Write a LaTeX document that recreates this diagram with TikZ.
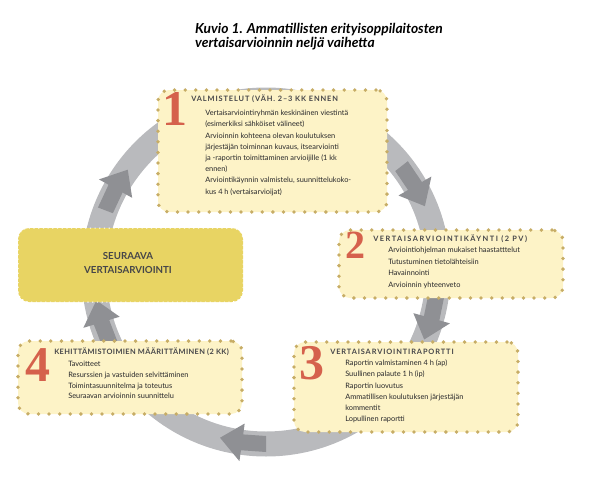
\documentclass[tikz,border=0pt]{standalone}
\usepackage{fontspec}
\setmainfont{Lato}
\newfontfamily\numfont{Liberation Serif}
\newfontfamily\headfont[LetterSpace=12]{Lato}
\newfontfamily\headwide[LetterSpace=20]{Lato}
\newfontfamily\headtight[LetterSpace=5]{Lato}
\usetikzlibrary{calc}
\definecolor{boxfill}{RGB}{253,243,199}
\definecolor{dotcol}{RGB}{199,173,102}
\definecolor{mustard}{RGB}{232,212,99}
\definecolor{ringgray}{RGB}{185,186,189}
\definecolor{arrowgray}{RGB}{143,144,148}
\definecolor{numred}{RGB}{213,97,76}
\definecolor{txtgray}{RGB}{40,40,43}
\definecolor{headgray}{RGB}{70,70,73}

\begin{document}
\begin{tikzpicture}[x=1pt,y=-1pt,
  stagebox/.style={rounded corners=11pt, fill=boxfill, draw=dotcol, line width=3.8pt,
    line cap=round, dash pattern=on 0pt off 10.6pt, inner sep=0pt},
  stagenum/.style={font=\numfont\bfseries\fontsize{50}{50}\selectfont, text=numred, inner sep=0pt},
  stagehead/.style={font=\headfont\bfseries\fontsize{7.4}{8}\selectfont, text=headgray, anchor=base west, inner sep=0pt},
  stageline/.style={font=\fontsize{7.4}{8}\selectfont, text=txtgray, anchor=base west, inner sep=0pt},
  titleline/.style={anchor=base west, inner sep=0pt, font=\bfseries\itshape\fontsize{13.8}{14}\selectfont}]
\useasboundingbox (0,0) rectangle (590,477);
\def\R{172}
\def\dy{11.2}
\coordinate (C) at (266,272);

%Title:
\node[titleline] (title1) at (195,33) {Kuvio 1. Ammatillisten erityisoppilaitosten};
\node[titleline] (title2) at (195,47.2) {vertaisarvioinnin neljä vaihetta};

%Ring and arrows:
\draw[ringgray, line width=25pt] (C) circle (\R);
\begin{scope}[shift={(C)}]
\foreach \a in {210,331,16.6,99,164}{
  \fill[arrowgray] ({\a-9}:{\R-8}) -- ({\a-1}:{\R-8}) -- ({\a-1}:{\R-19}) -- ({\a+6.5}:\R)
    -- ({\a-1}:{\R+19}) -- ({\a-1}:{\R+8}) -- ({\a-9}:{\R+8}) -- cycle;
}
\end{scope}

%Next round:
\node[fill=mustard, draw=white, line width=1pt, dash pattern=on 1.2pt off 3.5pt, rounded corners=11pt,
  minimum width=225pt, minimum height=74pt, inner sep=0pt] (next) at (130.5,265) {};
\node[font=\bfseries\fontsize{9.7}{14}\selectfont, text=headgray, align=center] (nexttext) at (128,263) {SEURAAVA\\VERTAISARVIOINTI};

%Stage 1
\node[stagebox, minimum width=229pt, minimum height=122pt] (b1) at (272.5,151) {};
\node[stagenum] (n1) at ($(b1.north west)+(19,21)$) {1};
\node[stagehead] (h1) at ($(b1.north west)+(35,13.5)$) {VALMISTELUT (VÄH. 2–3 KK ENNEN};
\foreach \t [count=\i] in {Vertaisarviointiryhmän keskinäinen viestintä,
  (esimerkiksi sähköiset välineet),
  Arvioinnin kohteena olevan koulutuksen,
  {järjestäjän toiminnan kuvaus, itsearviointi},
  ja -raportin toimittaminen arvioijille (1 kk,
  ennen),
  {Arviointikäynnin valmistelu, suunnittelukoko-},
  kus 4 h (vertaisarvioijat)}
  \node[stageline] (b1t\i) at ($(b1.north west)+(49,{27.5+(\i-1)*\dy})$) {\t};

%Stage 2
\node[stagebox, minimum width=224pt, minimum height=68pt] (b2) at (451,264) {};
\node[stagenum, font=\numfont\bfseries\fontsize{40}{40}\selectfont] (n2) at ($(b2.north west)+(18,17)$) {2};
\node[stagehead, font=\headwide\bfseries\fontsize{7.4}{8}\selectfont] (h2) at ($(b2.north west)+(36,13.5)$) {VERTAISARVIOINTIKÄYNTI (2 PV)};
\foreach \t [count=\i] in {Arviointiohjelman mukaiset haastatttelut,
  Tutustuminen tietolähteisiin,
  Havainnointi,
  Arvioinnin yhteenveto}
  \node[stageline] (b2t\i) at ($(b2.north west)+(51,{24.5+(\i-1)*11.6})$) {\t};

%Stage 3
\node[stagebox, minimum width=224pt, minimum height=90pt] (b3) at (406,387) {};
\node[stagenum] (n3) at ($(b3.north west)+(20,23)$) {3};
\node[stagehead] (h3) at ($(b3.north west)+(38,14.5)$) {VERTAISARVIOINTIRAPORTTI};
\foreach \t [count=\i] in {Raportin valmistaminen 4 h (ap),
  Suullinen palaute 1 h (ip),
  Raportin luovutus,
  Ammatillisen koulutuksen järjestäjän,
  kommentit,
  Lopullinen raportti}
  \node[stageline] (b3t\i) at ($(b3.north west)+(53,{25.5+(\i-1)*\dy})$) {\t};

%Stage 4
\node[stagebox, minimum width=224pt, minimum height=73pt] (b4) at (130,377.5) {};
\node[stagenum] (n4) at ($(b4.north west)+(22,26)$) {4};
\node[stagehead, font=\headtight\bfseries\fontsize{7.4}{8}\selectfont] (h4) at ($(b4.north west)+(38,15.5)$) {KEHITTÄMISTOIMIEN MÄÄRITTÄMINEN (2 KK)};
\foreach \t [count=\i] in {Tavoitteet,
  Resurssien ja vastuiden selvittäminen,
  Toimintasuunnitelma ja toteutus,
  Seuraavan arvioinnin suunnittelu}
  \node[stageline] (b4t\i) at ($(b4.north west)+(52,{27.5+(\i-1)*10.7})$) {\t};

\end{tikzpicture}
\end{document}
